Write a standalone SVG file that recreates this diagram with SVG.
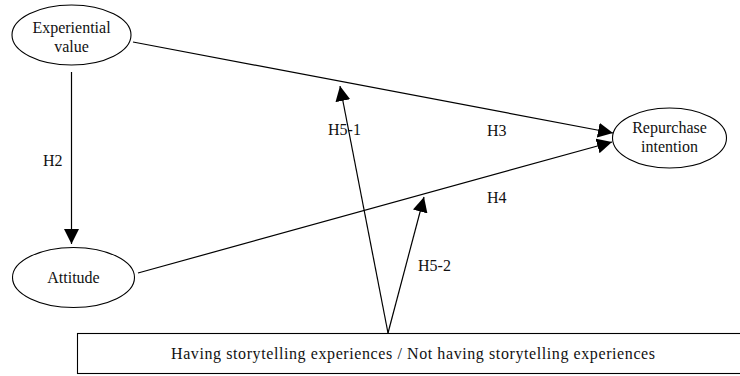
<svg xmlns="http://www.w3.org/2000/svg" width="740" height="376" viewBox="0 0 740 376">
<style>
.node{fill:#fff;stroke:#000;stroke-width:1.1}
.t{font-family:"Liberation Serif","Times New Roman",serif;font-size:16px;fill:#111}
.lbl{font-family:"Liberation Serif","Times New Roman",serif;font-size:16px;fill:#111}
.c{stroke:#000;stroke-width:1.2;fill:none}
</style>
<defs>
<marker id="ah" markerUnits="userSpaceOnUse" markerWidth="16" markerHeight="15" refX="15" refY="7.5" orient="auto">
<path d="M0,0 L15,7.5 L0,15 z" fill="#000"/>
</marker>
</defs>
<rect width="740" height="376" fill="#fff"/>
<g id="connectors">
<line class="c" x1="71.5" y1="72" x2="71.5" y2="244" marker-end="url(#ah)"/>
<line class="c" x1="133" y1="42" x2="613" y2="133" marker-end="url(#ah)"/>
<line class="c" x1="138" y1="273" x2="612" y2="142" marker-end="url(#ah)"/>
<line class="c" x1="388" y1="333" x2="340" y2="86" marker-end="url(#ah)"/>
<line class="c" x1="388" y1="333" x2="424" y2="197" marker-end="url(#ah)"/>
<text class="lbl" x="43" y="166">H2</text>
<text class="lbl" x="487" y="136">H3</text>
<text class="lbl" x="487" y="203">H4</text>
<text class="lbl" x="328" y="135">H5-1</text>
<text class="lbl" x="418" y="271">H5-2</text>
</g>
<g id="experiential-value">
<ellipse class="node" cx="71.5" cy="35" rx="59.5" ry="30"/>
<text class="t" x="71.5" y="33" text-anchor="middle">Experiential</text>
<text class="t" x="71.5" y="52" text-anchor="middle">value</text>
</g>
<g id="attitude">
<ellipse class="node" cx="73.5" cy="277.5" rx="61" ry="30"/>
<text class="t" x="73.5" y="283" text-anchor="middle">Attitude</text>
</g>
<g id="repurchase-intention">
<ellipse class="node" cx="669.5" cy="138" rx="57" ry="30"/>
<text class="t" x="669.5" y="133" text-anchor="middle">Repurchase</text>
<text class="t" x="669.5" y="152" text-anchor="middle">intention</text>
</g>
<g id="storytelling-group">
<rect class="node" x="77.5" y="333.5" width="664" height="40"/>
<text class="t" x="171" y="359" font-size="14.5" textLength="484" lengthAdjust="spacing">Having storytelling experiences / Not having storytelling experiences</text>
</g>
</svg>
